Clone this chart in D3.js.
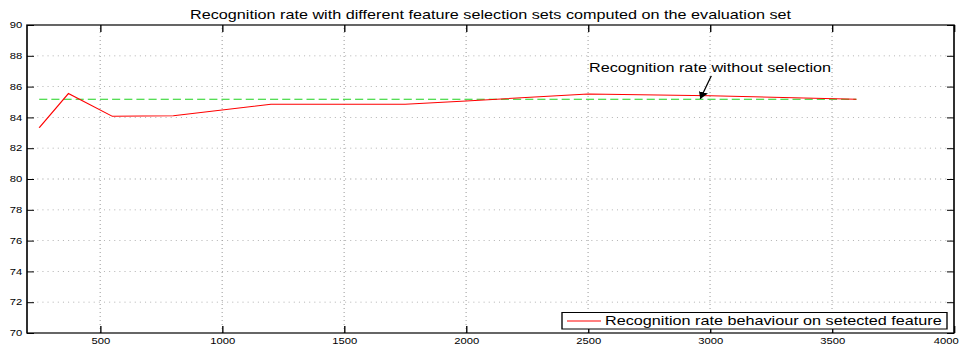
<!DOCTYPE html>
<html>
<head>
<meta charset="utf-8">
<script src="https://cdn.jsdelivr.net/npm/d3@7"></script>
<style>
  html, body { margin: 0; padding: 0; background: #fff; }
  svg { display: block; font-family: "Liberation Sans", Arial, sans-serif; }
</style>
</head>
<body>
<div id="chart"></div>
<script>
// Data
const featureCounts    = [250, 370, 550, 800, 1200, 1750, 2000, 2500, 3000, 3600];
const recognitionRates = [83.33, 85.55, 84.07, 84.1, 84.85, 84.85, 85.07, 85.52, 85.4, 85.18];
const baselineRate = 85.18;                 // rate without selection
const baselineSpan = [250, 3600];
const xTicks = [500, 1000, 1500, 2000, 2500, 3000, 3500, 4000];
const yTicks = [70, 72, 74, 76, 78, 80, 82, 84, 86, 88, 90];

const titleText = "Recognition rate with different feature selection sets computed on the evaluation set";
const noteText = "Recognition rate without selection";
const legendText = "Recognition rate behaviour on setected feature";

// The original figure is stretched horizontally, so the viewBox is narrower than the window
const k = 1.35;
const pageW = 966, pageH = 347;
const W = pageW / k, H = pageH;

// plot box in window pixels
const box = { left: 27, right: 954, top: 25, bottom: 333 };

const svg = d3.select("#chart")
  .append("svg")
  .attr("width", pageW)
  .attr("height", pageH)
  .attr("viewBox", `0 0 ${W} ${H}`)
  .attr("preserveAspectRatio", "none");

const x = d3.scaleLinear().domain([200, 4000]).range([box.left / k, box.right / k]);
const y = d3.scaleLinear().domain([70, 90]).range([box.bottom, box.top]);

// Grid (dotted)
const grid = svg.append("g").attr("stroke", "#a0a0a0").attr("stroke-width", 0.8);
grid.selectAll("line.v")
  .data(xTicks.filter(d => d < 4000))
  .enter().append("line")
  .attr("x1", d => x(d)).attr("x2", d => x(d))
  .attr("y1", y(70)).attr("y2", y(90))
  .attr("stroke-dasharray", "1,3");
grid.selectAll("line.h")
  .data(yTicks.filter(d => d > 70 && d < 90))
  .enter().append("line")
  .attr("x1", x(200)).attr("x2", x(4000))
  .attr("y1", d => y(d)).attr("y2", d => y(d))
  .attr("stroke-dasharray", "0.8,3");

// Axes with inward ticks on all four sides
const tick = 7;
const fmt = d3.format("d");
const xAxis = svg.append("g")
  .attr("transform", `translate(0,${y(70)})`)
  .call(d3.axisBottom(x).tickValues(xTicks).tickFormat(fmt).tickSizeInner(-tick).tickSizeOuter(0).tickPadding(5));
const xAxisTop = svg.append("g")
  .attr("transform", `translate(0,${y(90)})`)
  .call(d3.axisTop(x).tickValues(xTicks).tickSizeInner(-tick).tickSizeOuter(0).tickFormat(""));
const yAxis = svg.append("g")
  .attr("transform", `translate(${x(200)},0)`)
  .call(d3.axisLeft(y).tickValues(yTicks).tickFormat(fmt).tickSizeInner(-tick / k).tickSizeOuter(0).tickPadding(3.5));
const yAxisRight = svg.append("g")
  .attr("transform", `translate(${x(4000)},0)`)
  .call(d3.axisRight(y).tickValues(yTicks).tickSizeInner(-tick / k).tickSizeOuter(0).tickFormat(""));

[xAxis, xAxisTop, yAxis, yAxisRight].forEach(a => {
  a.select(".domain").remove();
  a.selectAll("line").attr("stroke", "#000").attr("stroke-width", 1);
  a.selectAll("text")
    .attr("fill", "#000")
    .style("font-family", "'Liberation Sans', Arial, sans-serif")
    .style("font-size", "8.3px");
});

// last x label sits against the window edge, pull it in
xAxis.selectAll(".tick text")
  .filter(d => d === 4000)
  .attr("text-anchor", "end")
  .attr("dx", 4 / k);

// Frame
svg.append("rect")
  .attr("x", x(200)).attr("y", y(90))
  .attr("width", x(4000) - x(200))
  .attr("height", y(70) - y(90))
  .attr("fill", "none")
  .attr("stroke", "#000")
  .attr("stroke-width", 1.2);

// Baseline (dashed green)
svg.append("line")
  .attr("x1", x(baselineSpan[0])).attr("x2", x(baselineSpan[1]))
  .attr("y1", y(baselineRate)).attr("y2", y(baselineRate))
  .attr("stroke", "#1ed21e")
  .attr("stroke-width", 1.1)
  .attr("stroke-dasharray", "6,3");

// Recognition rate line
const lineData = featureCounts.map((c, i) => ({ x: c, y: recognitionRates[i] }));
const line = d3.line().x(d => x(d.x)).y(d => y(d.y));
svg.append("path")
  .datum(lineData)
  .attr("fill", "none")
  .attr("stroke", "#ff0000")
  .attr("stroke-width", 1)
  .attr("d", line);

// Title
svg.append("text")
  .attr("x", (x(200) + x(4000)) / 2)
  .attr("y", 19)
  .attr("text-anchor", "middle")
  .style("font-size", "12px")
  .attr("fill", "#000")
  .text(titleText);

// Annotation with arrow
svg.append("defs").append("marker")
  .attr("id", "arrow")
  .attr("viewBox", "0 0 10 10")
  .attr("refX", 10).attr("refY", 5)
  .attr("markerWidth", 7).attr("markerHeight", 7)
  .attr("orient", "auto")
  .append("path")
  .attr("d", "M0,0 L10,5 L0,10 z")
  .attr("fill", "#000");

svg.append("text")
  .attr("x", x(3000))
  .attr("y", y(86.92))
  .attr("text-anchor", "middle")
  .style("font-size", "12px")
  .attr("fill", "#000")
  .text(noteText);

svg.append("line")
  .attr("x1", x(3005)).attr("y1", y(86.7))
  .attr("x2", x(2960)).attr("y2", y(85.2))
  .attr("stroke", "#000")
  .attr("stroke-width", 1)
  .attr("marker-end", "url(#arrow)");

// Legend
const lg = svg.append("g");
lg.append("rect")
  .attr("x", 562 / k).attr("y", 312.5)
  .attr("width", (947 - 562) / k).attr("height", 16.5)
  .attr("fill", "#fff")
  .attr("stroke", "#000")
  .attr("stroke-width", 1);
lg.append("line")
  .attr("x1", 567 / k).attr("x2", 601 / k)
  .attr("y1", 321).attr("y2", 321)
  .attr("stroke", "#ff0000")
  .attr("stroke-width", 1);
lg.append("text")
  .attr("x", 605 / k).attr("y", 325)
  .style("font-size", "12px")
  .attr("fill", "#000")
  .text(legendText);
</script>
</body>
</html>
